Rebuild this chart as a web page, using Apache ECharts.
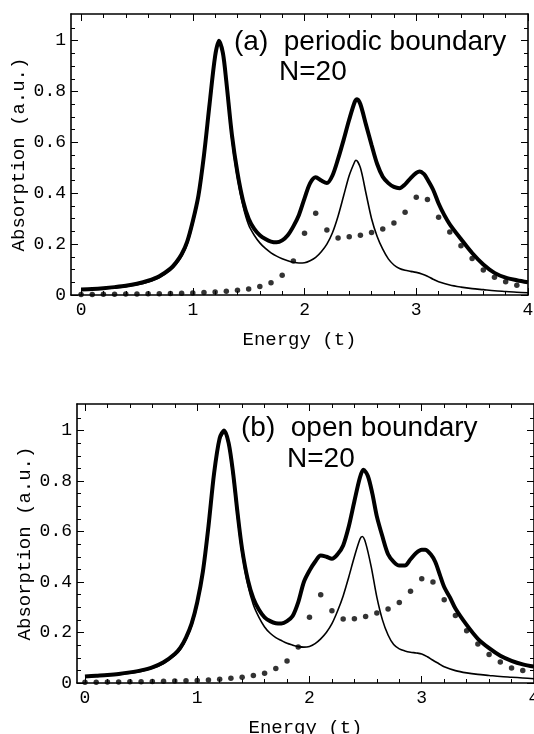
<!DOCTYPE html>
<html>
<head>
<meta charset="utf-8">
<script src="https://cdn.jsdelivr.net/npm/echarts@6/dist/echarts.min.js"></script>
<style>
  html, body { margin: 0; padding: 0; background: #fff; }
  #chart { width: 534px; height: 734px; }
</style>
</head>
<body>
<div id="chart"></div>
<script>
// tick positions
const xMajorTicks = [0, 1, 2, 3, 4]
const xMinorTicks = [0.2, 0.4, 0.6, 0.8, 1.2, 1.4, 1.6, 1.8, 2.2, 2.4, 2.6, 2.8, 3.2, 3.4, 3.6, 3.8]
const yMajorTicks = [0, 0.2, 0.4, 0.6, 0.8, 1]
const yMinorTicks = [0.05, 0.1, 0.15, 0.25, 0.3, 0.35, 0.45, 0.5, 0.55, 0.65, 0.7, 0.75, 0.85, 0.9, 0.95, 1.05]

// (a) periodic boundary: total absorption [energy, value]
const periodicTotal = [
  [0, 0.022], [0.1, 0.024], [0.2, 0.027], [0.3, 0.031], [0.4, 0.036], [0.5, 0.044],
  [0.6, 0.056], [0.7, 0.074], [0.8, 0.104], [0.85, 0.128], [0.9, 0.16], [0.95, 0.21],
  [1.0, 0.29], [1.05, 0.39], [1.1, 0.55], [1.15, 0.75], [1.2, 0.94], [1.235, 1.0],
  [1.27, 0.95], [1.3, 0.84], [1.35, 0.63], [1.4, 0.48], [1.45, 0.37], [1.5, 0.3],
  [1.55, 0.26], [1.6, 0.235], [1.65, 0.22], [1.7, 0.21], [1.75, 0.207], [1.8, 0.215],
  [1.85, 0.235], [1.9, 0.27], [1.95, 0.315], [2.0, 0.38], [2.05, 0.44], [2.1, 0.463],
  [2.15, 0.45], [2.2, 0.44], [2.25, 0.47], [2.3, 0.535], [2.35, 0.61], [2.4, 0.69],
  [2.45, 0.76], [2.47, 0.77], [2.5, 0.75], [2.55, 0.67], [2.6, 0.59], [2.65, 0.515],
  [2.7, 0.465], [2.75, 0.44], [2.8, 0.425], [2.85, 0.42], [2.9, 0.435], [2.95, 0.46],
  [3.0, 0.48], [3.03, 0.486], [3.07, 0.475], [3.1, 0.455], [3.15, 0.415], [3.2, 0.36],
  [3.25, 0.315], [3.3, 0.278], [3.4, 0.22], [3.5, 0.165], [3.6, 0.12], [3.7, 0.087],
  [3.8, 0.068], [3.9, 0.058], [4.0, 0.05]
]
// (a) bulk part
const periodicBulk = [
  [0, 0.02], [0.1, 0.022], [0.2, 0.025], [0.3, 0.028], [0.4, 0.033], [0.5, 0.04],
  [0.6, 0.051], [0.7, 0.068], [0.8, 0.097], [0.85, 0.12], [0.9, 0.152], [0.95, 0.2],
  [1.0, 0.28], [1.05, 0.38], [1.1, 0.54], [1.15, 0.74], [1.2, 0.93], [1.235, 0.99],
  [1.27, 0.94], [1.3, 0.83], [1.35, 0.61], [1.4, 0.46], [1.45, 0.35], [1.5, 0.275],
  [1.55, 0.235], [1.6, 0.205], [1.65, 0.183], [1.7, 0.166], [1.75, 0.153], [1.8, 0.143],
  [1.85, 0.135], [1.9, 0.129], [1.95, 0.126], [2.0, 0.127], [2.05, 0.135], [2.1, 0.148],
  [2.15, 0.17], [2.2, 0.2], [2.25, 0.245], [2.3, 0.31], [2.35, 0.39], [2.4, 0.47],
  [2.45, 0.525], [2.46, 0.53], [2.5, 0.5], [2.55, 0.4], [2.6, 0.3], [2.65, 0.23],
  [2.7, 0.18], [2.75, 0.142], [2.8, 0.118], [2.85, 0.104], [2.9, 0.097], [2.95, 0.093],
  [3.0, 0.089], [3.05, 0.083], [3.1, 0.074], [3.15, 0.062], [3.2, 0.052], [3.3, 0.039],
  [3.4, 0.031], [3.5, 0.025], [3.6, 0.021], [3.7, 0.017], [3.8, 0.014], [3.9, 0.011],
  [4.0, 0.009]
]
// dotted curves sampled every 0.1
const dotEnergy = [0, 0.1, 0.2, 0.3, 0.4, 0.5, 0.6, 0.7, 0.8, 0.9, 1.0, 1.1, 1.2, 1.3,
  1.4, 1.5, 1.6, 1.7, 1.8, 1.9, 2.0, 2.1, 2.2, 2.3, 2.4, 2.5, 2.6, 2.7, 2.8, 2.9, 3.0,
  3.1, 3.2, 3.3, 3.4, 3.5, 3.6, 3.7, 3.8, 3.9]
const periodicDots = [0.002, 0.002, 0.003, 0.003, 0.004, 0.004, 0.005, 0.005, 0.006, 0.007,
  0.008, 0.01, 0.012, 0.015, 0.019, 0.024, 0.033, 0.048, 0.078, 0.134, 0.243, 0.321,
  0.256, 0.224, 0.229, 0.235, 0.246, 0.26, 0.283, 0.325, 0.384, 0.376, 0.306, 0.248,
  0.194, 0.144, 0.098, 0.07, 0.052, 0.038]

// (b) open boundary
const openTotal = [
  [0, 0.026], [0.1, 0.029], [0.2, 0.032], [0.3, 0.036], [0.4, 0.042], [0.5, 0.05],
  [0.6, 0.062], [0.7, 0.082], [0.8, 0.115], [0.85, 0.14], [0.9, 0.18], [0.95, 0.235],
  [1.0, 0.32], [1.05, 0.44], [1.1, 0.62], [1.15, 0.83], [1.2, 0.97], [1.24, 1.0],
  [1.28, 0.95], [1.32, 0.83], [1.36, 0.67], [1.4, 0.53], [1.45, 0.41], [1.5, 0.335],
  [1.55, 0.29], [1.6, 0.26], [1.65, 0.245], [1.7, 0.237], [1.75, 0.236], [1.8, 0.245],
  [1.85, 0.265], [1.9, 0.32], [1.95, 0.4], [2.0, 0.445], [2.05, 0.48], [2.1, 0.505],
  [2.15, 0.5], [2.2, 0.492], [2.25, 0.51], [2.3, 0.545], [2.35, 0.62], [2.4, 0.72],
  [2.45, 0.815], [2.48, 0.845], [2.52, 0.82], [2.56, 0.75], [2.6, 0.66], [2.65, 0.58],
  [2.7, 0.51], [2.75, 0.48], [2.8, 0.465], [2.85, 0.465], [2.9, 0.49], [2.95, 0.515],
  [3.0, 0.528], [3.03, 0.528], [3.08, 0.51], [3.12, 0.48], [3.16, 0.43], [3.2, 0.38],
  [3.25, 0.34], [3.3, 0.295], [3.4, 0.23], [3.5, 0.175], [3.6, 0.138], [3.7, 0.108],
  [3.8, 0.088], [3.9, 0.074], [4.0, 0.065]
]
const openBulk = [
  [0, 0.024], [0.1, 0.027], [0.2, 0.03], [0.3, 0.034], [0.4, 0.039], [0.5, 0.046],
  [0.6, 0.058], [0.7, 0.077], [0.8, 0.109], [0.85, 0.133], [0.9, 0.172], [0.95, 0.226],
  [1.0, 0.31], [1.05, 0.43], [1.1, 0.61], [1.15, 0.82], [1.2, 0.96], [1.24, 0.99],
  [1.28, 0.94], [1.32, 0.81], [1.36, 0.65], [1.4, 0.51], [1.45, 0.39], [1.5, 0.31],
  [1.55, 0.26], [1.6, 0.222], [1.65, 0.197], [1.7, 0.18], [1.75, 0.168], [1.8, 0.157],
  [1.85, 0.15], [1.9, 0.144], [1.95, 0.142], [2.0, 0.145], [2.05, 0.156], [2.1, 0.175],
  [2.15, 0.2], [2.2, 0.235], [2.25, 0.285], [2.3, 0.345], [2.35, 0.42], [2.4, 0.5],
  [2.45, 0.57], [2.47, 0.58], [2.5, 0.555], [2.55, 0.46], [2.6, 0.34], [2.65, 0.25],
  [2.7, 0.19], [2.75, 0.152], [2.8, 0.135], [2.85, 0.127], [2.9, 0.122], [2.95, 0.119],
  [3.0, 0.115], [3.05, 0.104], [3.1, 0.09], [3.15, 0.077], [3.2, 0.064], [3.3, 0.049],
  [3.4, 0.04], [3.5, 0.034], [3.6, 0.03], [3.7, 0.026], [3.8, 0.023], [3.9, 0.02],
  [4.0, 0.017]
]
const openDots = [0.003, 0.003, 0.004, 0.004, 0.005, 0.005, 0.006, 0.007, 0.008, 0.009,
  0.01, 0.012, 0.015, 0.019, 0.023, 0.03, 0.039, 0.057, 0.087, 0.143, 0.26, 0.35,
  0.286, 0.253, 0.254, 0.263, 0.277, 0.293, 0.319, 0.363, 0.413, 0.4, 0.33, 0.267,
  0.207, 0.154, 0.113, 0.083, 0.059, 0.05]

const monoFont = 'Liberation Mono'
const black = '#000'

function xAxes(g, min) {
  const base = {
    type: 'value', gridIndex: g, min: min, max: 4,
    splitLine: { show: false },
    axisLine: { show: false, onZero: false, lineStyle: { color: black, width: 1.6 } },
    axisLabel: { show: false }
  }
  const major = { inside: true, length: 7, customValues: xMajorTicks, lineStyle: { color: black, width: 1 } }
  const minor = { inside: true, length: 4, customValues: xMinorTicks, lineStyle: { color: black, width: 1 } }
  return [
    Object.assign({}, base, {
      position: 'bottom',
      axisLine: Object.assign({}, base.axisLine, { show: true }),
      axisTick: major,
      axisLabel: { customValues: xMajorTicks, margin: 6, color: black, fontFamily: monoFont, fontSize: 18 },
      name: 'Energy (t)', nameLocation: 'middle', nameGap: 35, nameMoveOverlap: false,
      nameTextStyle: { color: black, fontFamily: monoFont, fontSize: 19 }
    }),
    Object.assign({}, base, { position: 'bottom', axisTick: minor }),
    Object.assign({}, base, { position: 'top', axisLine: Object.assign({}, base.axisLine, { show: true }), axisTick: major }),
    Object.assign({}, base, { position: 'top', axisTick: minor })
  ]
}

function yAxes(g) {
  const base = {
    type: 'value', gridIndex: g, min: 0, max: 1.105,
    splitLine: { show: false },
    axisLine: { show: false, onZero: false, lineStyle: { color: black, width: 1.6 } },
    axisLabel: { show: false }
  }
  const major = { inside: true, length: 7, customValues: yMajorTicks, lineStyle: { color: black, width: 1 } }
  const minor = { inside: true, length: 4, customValues: yMinorTicks, lineStyle: { color: black, width: 1 } }
  return [
    Object.assign({}, base, {
      position: 'left',
      axisLine: Object.assign({}, base.axisLine, { show: true }),
      axisTick: major,
      axisLabel: { customValues: yMajorTicks, margin: 5, color: black, fontFamily: monoFont, fontSize: 18 },
      name: 'Absorption (a.u.)', nameLocation: 'middle', nameGap: 43, nameMoveOverlap: false,
      nameTextStyle: { color: black, fontFamily: monoFont, fontSize: 19 }
    }),
    Object.assign({}, base, { position: 'left', axisTick: minor }),
    Object.assign({}, base, { position: 'right', axisLine: Object.assign({}, base.axisLine, { show: true }), axisTick: major }),
    Object.assign({}, base, { position: 'right', axisTick: minor })
  ]
}

function panelSeries(g, total, bulk, dots) {
  const ax = g * 4
  return [
    {
      type: 'line', xAxisIndex: ax, yAxisIndex: ax, data: total,
      showSymbol: false, smooth: 0.3, lineStyle: { color: black, width: 4 }
    },
    {
      type: 'line', xAxisIndex: ax, yAxisIndex: ax, data: bulk,
      showSymbol: false, smooth: 0.3, lineStyle: { color: black, width: 1.6 }
    },
    {
      type: 'scatter', xAxisIndex: ax, yAxisIndex: ax,
      data: dotEnergy.map((e, i) => [e, dots[i]]),
      symbol: 'circle', symbolSize: 5.5, itemStyle: { color: black }
    }
  ]
}

const titleFont = '28px "Liberation Sans"'

const chart = echarts.init(document.getElementById('chart'))
chart.setOption({
  backgroundColor: '#fff',
  animation: false,
  grid: [
    { left: 71, top: 14, width: 457, height: 281, outerBoundsMode: 'none' },
    { left: 77, top: 404, width: 457, height: 279, outerBoundsMode: 'none' }
  ],
  xAxis: xAxes(0, -0.09).concat(xAxes(1, -0.071)),
  yAxis: yAxes(0).concat(yAxes(1)),
  series: panelSeries(0, periodicTotal, periodicBulk, periodicDots)
    .concat(panelSeries(1, openTotal, openBulk, openDots)),
  graphic: [
    { type: 'text', left: 234, top: 28, style: { text: '(a)  periodic boundary', font: titleFont, fill: black } },
    { type: 'text', left: 279, top: 58, style: { text: 'N=20', font: titleFont, fill: black } },
    { type: 'text', left: 241, top: 414, style: { text: '(b)  open boundary', font: titleFont, fill: black } },
    { type: 'text', left: 287, top: 445, style: { text: 'N=20', font: titleFont, fill: black } }
  ]
})
</script>
</body>
</html>
